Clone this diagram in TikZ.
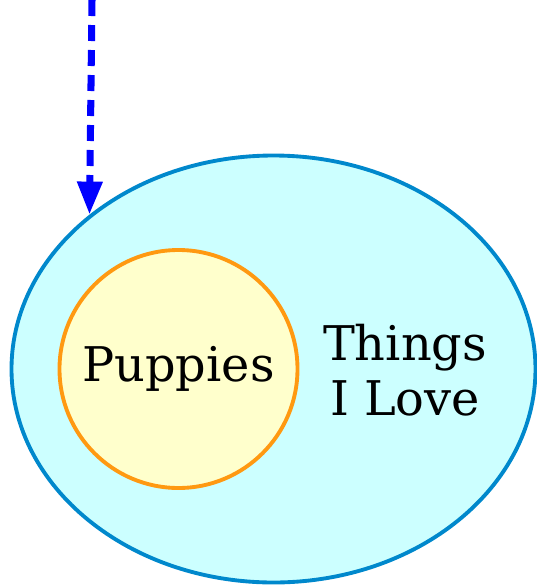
\documentclass[tikz,border=0pt]{standalone}
\usepackage{fontspec}
\setmainfont{DejaVu Serif}
\usetikzlibrary{shapes.geometric, arrows.meta}

\definecolor{loveline}{RGB}{0,136,204}
\definecolor{lovefill}{RGB}{204,255,255}
\definecolor{pupline}{RGB}{255,153,17}
\definecolor{pupfill}{RGB}{255,255,204}

\begin{document}
\begin{tikzpicture}[>={Triangle[length=3.3mm,width=2.4mm]},
    every node/.style={font=\fontsize{13.6}{15.8}\selectfont}]
        \useasboundingbox (0,0) rectangle (5.37,-5.85);

        \node[ellipse, draw=loveline, fill=lovefill, line width=1.1pt, inner sep=0pt,
              minimum width=5.24cm, minimum height=4.27cm] (love) at (2.735,-3.69) {};
        \node[circle, draw=pupline, fill=pupfill, line width=1.1pt, inner sep=0pt,
              minimum size=2.38cm] (puppies) at (1.785,-3.69) {Puppies};
        \node[align=center] (lovelabel) at (4.05,-3.70) {Things\\I Love};

        \coordinate (src) at (0.92,0);
        \draw[->, blue, line width=2pt, dash pattern=on 0.16cm off 0.09cm] (src) -- (love.140);
    \end{tikzpicture}
\end{document}
